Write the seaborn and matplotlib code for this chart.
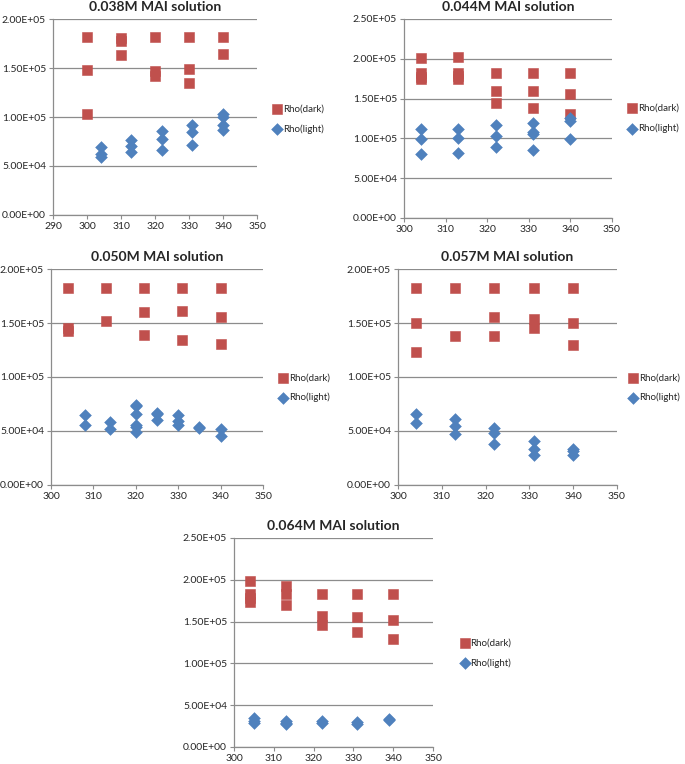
import numpy as np
import pandas as pd
import seaborn as sns
import matplotlib
matplotlib.use("Agg")
import matplotlib.pyplot as plt
from matplotlib.ticker import FuncFormatter, MultipleLocator

# values (rho in units of 1e5)
titles = ["0.038M MAI solution", "0.044M MAI solution", "0.050M MAI solution",
          "0.057M MAI solution", "0.064M MAI solution"]

t038_dark = [300, 300, 300, 310, 310, 310, 320, 320, 320, 330, 330, 330, 340, 340]
rho038_dark = [1.82, 1.48, 1.03, 1.81, 1.78, 1.63, 1.82, 1.47, 1.42, 1.82, 1.49, 1.35, 1.82, 1.64]
t038_light = [304, 304, 304, 313, 313, 313, 322, 322, 322, 331, 331, 331, 340, 340, 340, 340]
rho038_light = [0.69, 0.62, 0.59, 0.765, 0.70, 0.645, 0.855, 0.775, 0.66, 0.915, 0.845, 0.71,
                1.03, 1.0, 0.915, 0.87]

t044_dark = [304, 304, 304, 304, 313, 313, 313, 313, 322, 322, 322, 331, 331, 331, 340, 340, 340]
rho044_dark = [2.01, 1.82, 1.77, 1.74, 2.02, 1.82, 1.78, 1.75, 1.82, 1.60, 1.44,
               1.82, 1.60, 1.38, 1.82, 1.56, 1.31]
t044_light = [304, 304, 304, 313, 313, 313, 322, 322, 322, 331, 331, 331, 331, 340, 340, 340]
rho044_light = [1.115, 0.99, 0.80, 1.115, 1.00, 0.82, 1.17, 1.03, 0.895, 1.195, 1.08, 1.05, 0.855,
                1.255, 1.22, 0.99]

t050_dark = [304, 304, 304, 313, 313, 322, 322, 322, 331, 331, 331, 340, 340, 340]
rho050_dark = [1.82, 1.45, 1.43, 1.82, 1.52, 1.82, 1.60, 1.385, 1.82, 1.61, 1.345, 1.82, 1.56, 1.305]
t050_light = [308, 308, 314, 314, 320, 320, 320, 320, 320, 320, 325, 325, 325,
              330, 330, 330, 335, 335, 340, 340]
rho050_light = [0.645, 0.56, 0.58, 0.52, 0.745, 0.73, 0.66, 0.555, 0.535, 0.49, 0.665, 0.655, 0.60,
                0.65, 0.59, 0.56, 0.535, 0.525, 0.52, 0.45]

t057_dark = [304, 304, 304, 313, 313, 322, 322, 322, 331, 331, 331, 340, 340, 340]
rho057_dark = [1.82, 1.50, 1.235, 1.82, 1.38, 1.82, 1.555, 1.38, 1.82, 1.54, 1.45, 1.82, 1.50, 1.30]
t057_light = [304, 304, 313, 313, 313, 322, 322, 322, 331, 331, 331, 340, 340, 340]
rho057_light = [0.655, 0.57, 0.61, 0.545, 0.47, 0.53, 0.48, 0.375, 0.41, 0.335, 0.28, 0.33, 0.315, 0.28]

t064_dark = [304, 304, 304, 304, 313, 313, 313, 322, 322, 322, 331, 331, 331, 340, 340, 340]
rho064_dark = [1.98, 1.83, 1.78, 1.73, 1.93, 1.83, 1.70, 1.83, 1.57, 1.46, 1.83, 1.55, 1.38,
               1.83, 1.52, 1.29]
t064_light = [305, 305, 305, 313, 313, 313, 322, 322, 331, 331, 339, 339]
rho064_light = [0.345, 0.315, 0.29, 0.315, 0.29, 0.27, 0.305, 0.285, 0.30, 0.27, 0.335, 0.32]

panels = [
    (t038_dark, rho038_dark, t038_light, rho038_light, (290, 350), 2.0e5),
    (t044_dark, rho044_dark, t044_light, rho044_light, (300, 350), 2.5e5),
    (t050_dark, rho050_dark, t050_light, rho050_light, (300, 350), 2.0e5),
    (t057_dark, rho057_dark, t057_light, rho057_light, (300, 350), 2.0e5),
    (t064_dark, rho064_dark, t064_light, rho064_light, (300, 350), 2.5e5),
]

# axes boxes in figure fractions, legend anchor in axes fractions
boxes = [[0.0774, 0.7186, 0.2978, 0.2565],
         [0.5898, 0.7147, 0.3036, 0.2605],
         [0.0745, 0.3652, 0.3095, 0.2827],
         [0.5810, 0.3652, 0.3197, 0.2827],
         [0.3416, 0.0223, 0.2905, 0.2736]]
leg_pos = [(1.05, 0.49), (1.05, 0.50), (1.05, 0.45), (1.03, 0.45), (1.11, 0.45)]

sns.set_style("white")
plt.rcParams['font.family'] = ['Lato', 'DejaVu Sans']

palette = {"Rho(dark)": "#C0504D", "Rho(light)": "#4F81BD"}
markers = {"Rho(dark)": "s", "Rho(light)": "D"}
sizes = {"Rho(dark)": 55, "Rho(light)": 36}

fig = plt.figure(figsize=(6.85, 7.64), dpi=100)

for i in range(5):
    td, rd, tl, rl, xlim, ymax = panels[i]
    df = pd.DataFrame({
        "T": td + tl,
        "rho": [v * 1e5 for v in rd] + [v * 1e5 for v in rl],
        "series": ["Rho(dark)"] * len(td) + ["Rho(light)"] * len(tl),
    })
    ax = fig.add_axes(boxes[i])
    for name in ["Rho(dark)", "Rho(light)"]:
        sub = df[df["series"] == name]
        sns.scatterplot(data=sub, x="T", y="rho", color=palette[name], marker=markers[name],
                        s=sizes[name], edgecolor=palette[name], linewidth=0.4,
                        label=name, ax=ax, zorder=3)
    ax.set_xlim(*xlim)
    ax.set_ylim(0, ymax)
    ax.xaxis.set_major_locator(MultipleLocator(10))
    ax.yaxis.set_major_locator(MultipleLocator(5e4))
    ax.yaxis.set_major_formatter(FuncFormatter(lambda v, p: f"{v:.2E}"))
    ax.grid(axis="y", color="#8c8c8c", lw=0.9)
    ax.set_axisbelow(True)
    for pos in ['right', 'top']:
        ax.spines[pos].set_visible(False)
    for pos in ['left', 'bottom']:
        ax.spines[pos].set_color("#8c8c8c")
        ax.spines[pos].set_linewidth(0.9)
    ax.tick_params(axis="both", direction="out", length=3, width=0.8, color="#8c8c8c",
                   labelsize=7.5, pad=2, left=True, bottom=True)
    ax.set_xlabel("")
    ax.set_ylabel("")
    ax.set_title(titles[i], fontsize=10, fontweight="bold", pad=6)
    ax.legend(loc="center left", bbox_to_anchor=leg_pos[i], frameon=False, fontsize=7,
              handletextpad=0.0, labelspacing=1.1, borderaxespad=0, handlelength=1.2)

plt.savefig("out.png", dpi=100)
